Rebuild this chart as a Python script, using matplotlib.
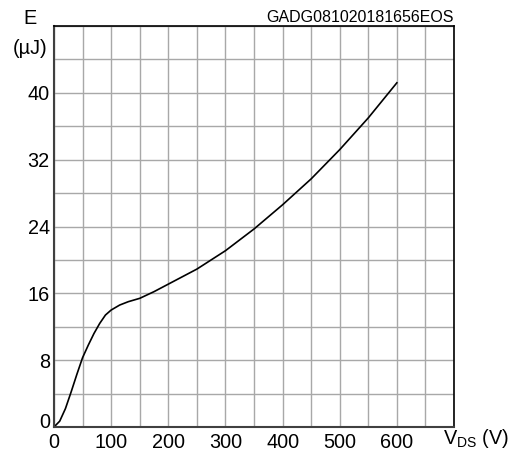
import numpy as np
import matplotlib.pyplot as plt
from matplotlib.transforms import ScaledTranslation

plt.rcParams['font.family'] = ['Liberation Sans', 'DejaVu Sans']

# Switching energy vs drain-source voltage
vds = [0, 10, 20, 30, 40, 50, 60, 70, 80, 90, 100, 115, 130, 150, 175,
       200, 250, 300, 350, 400, 450, 500, 550, 600]
energy = [0, 0.7, 2.2, 4.2, 6.3, 8.3, 9.8, 11.2, 12.4, 13.4, 14.0, 14.6,
          15.0, 15.4, 16.2, 17.1, 18.9, 21.1, 23.7, 26.6, 29.7, 33.2, 37.0, 41.2]

x_ticks = [0, 100, 200, 300, 400, 500, 600]
y_ticks = [0, 8, 16, 24, 32, 40]

fs = 14.3

fig = plt.figure(figsize=(5.22, 4.55), dpi=100)
ax = fig.add_axes([54 / 522, 1 - 427 / 455, 400 / 522, 401 / 455])

ax.set_xlim(0, 700)
ax.set_ylim(0, 48)
ax.set_xticks(np.arange(0, 701, 50))
ax.set_yticks(np.arange(0, 49, 4))
ax.grid(True, color='#a8a8a8', linewidth=1.0)
ax.set_axisbelow(True)

ax.set_xticklabels([str(v) if v in x_ticks else '' for v in range(0, 701, 50)])
ax.set_yticklabels([str(v) if v in y_ticks else '' for v in range(0, 49, 4)])
ax.tick_params(length=0, labelsize=fs, colors='black')
ax.tick_params(axis='x', pad=4)
ax.tick_params(axis='y', pad=3)

# nudge the y "0" label up so it clears the x "0"
lbl0 = ax.get_yticklabels()[0]
lbl0.set_transform(lbl0.get_transform() + ScaledTranslation(0, 6 / 100, fig.dpi_scale_trans))

for side in ['left', 'bottom']:
    ax.spines[side].set_color('#404040')
    ax.spines[side].set_linewidth(1.5)
for side in ['right', 'top']:
    ax.spines[side].set_color('black')
    ax.spines[side].set_linewidth(1.2)

ax.plot(vds, energy, color='black', linewidth=1.2)

fig.text(30 / 522, 1 - 19 / 455, 'E', fontsize=fs, ha='center', va='center')
fig.text(30 / 522, 1 - 48 / 455, '(µJ)', fontsize=fs, ha='center', va='center')
fig.text(476 / 522, 1 - 438 / 455, r'V$_{\mathregular{DS}}$ (V)', fontsize=fs,
         ha='center', va='center')
fig.text(454 / 522, 1 - 18 / 455, 'GADG081020181656EOS', fontsize=11.5,
         ha='right', va='center')

fig.savefig('out.png', dpi=100)
